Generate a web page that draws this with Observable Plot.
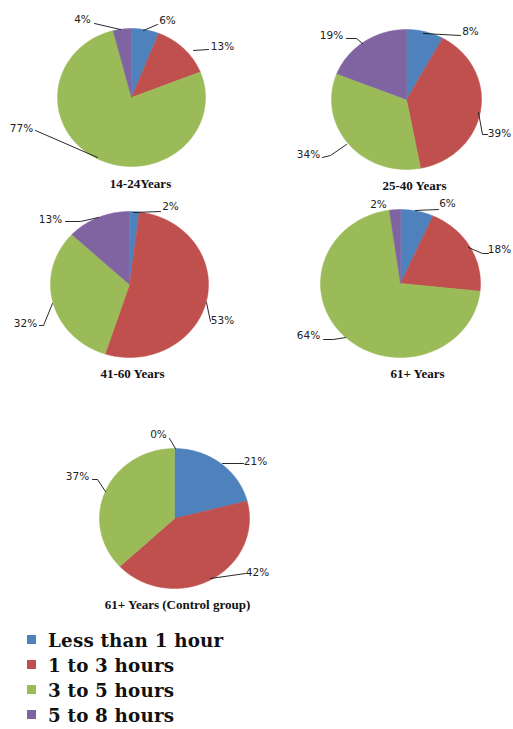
<!DOCTYPE html>
<html>
<head>
<meta charset="utf-8">
<script src="https://cdn.jsdelivr.net/npm/d3@7"></script>
<script src="https://cdn.jsdelivr.net/npm/@observablehq/plot@0.6"></script>
<style>
  body { margin: 0; background: #fff; }
  #wrap { position: relative; width: 513px; height: 729px; overflow: hidden; }
  #legend { position: absolute; left: 0; top: 628px; font-family: "DejaVu Serif", serif; font-weight: bold; font-size: 18.3px; color: #111; }
  .row { position: absolute; left: 0; height: 25px; white-space: nowrap; }
  .sw { position: absolute; left: 27px; width: 9px; height: 9px; top: 7px; }
  .lbl { position: absolute; left: 48px; top: 0; line-height: 25px; letter-spacing: 0.2px; }
</style>
</head>
<body>
<div id="wrap"><div id="chart"></div><div id="legend"></div></div>
<script>
// ---- data ----
const categories = ["Less than 1 hour", "1 to 3 hours", "3 to 5 hours", "5 to 8 hours"];
const groups = ["14-24Years", "25-40 Years", "41-60 Years", "61+ Years", "61+ Years (Control group)"];
const values14_24 = [6, 13, 77, 4];
const values25_40 = [8, 39, 34, 19];
const values41_60 = [2, 53, 32, 13];
const values61plus = [6, 18, 64, 2];
const values61control = [21, 42, 37, 0];
const seriesValues = [values14_24, values25_40, values41_60, values61plus, values61control];
const colors = ["#4F81BD", "#C0504D", "#9BBB59", "#8064A2"];

// ---- layout (positions only) ----
const layout = [
  { cx: 131, cy: 97, rx: 74, ry: 69, title: [140, 183],
    labels: [ {t: [167, 20], l: [[143, 30], [157, 24]]},
              {t: [222, 46], l: [[193, 50], [208, 49]]},
              {t: [21, 128], l: [[35, 130], [97, 157]]},
              {t: [82, 19],  l: [[94, 23], [120, 29]]} ] },
  { cx: 406, cy: 99, rx: 75, ry: 70, title: [414, 185],
    labels: [ {t: [470, 31], l: [[423, 33], [460, 35]]},
              {t: [499, 133], l: [[478, 112], [482, 134], [487, 134]]},
              {t: [308, 154], l: [[322, 157], [330, 155], [346, 144]]},
              {t: [331, 35], l: [[346, 38], [356, 38], [362, 43]]} ] },
  { cx: 129, cy: 284, rx: 79, ry: 73, title: [132, 373],
    labels: [ {t: [170, 206], l: [[133, 212], [160, 211]]},
              {t: [222, 320], l: [[206, 302], [210, 321]]},
              {t: [25, 323], l: [[39, 325], [43, 325], [52, 303]]},
              {t: [50, 219], l: [[65, 221], [80, 221], [98, 217]]} ] },
  { cx: 400, cy: 283, rx: 80, ry: 74, title: [417, 373],
    labels: [ {t: [447, 203], l: [[415, 210], [438, 209]]},
              {t: [499, 249], l: [[468, 247], [482, 253], [488, 253]]},
              {t: [308, 335], l: [[323, 339], [333, 339], [345, 337]]},
              {t: [378, 204], l: null} ] },
  { cx: 174, cy: 518, rx: 75, ry: 70, title: [177, 604],
    labels: [ {t: [255, 461], l: [[222, 463], [243, 463]]},
              {t: [257, 572], l: [[210, 578], [245, 573]]},
              {t: [77, 476], l: [[92, 479], [97, 479], [105, 491]]},
              {t: [158, 434], l: [[169, 438], [175, 448]]} ] }
];

// ---- build mark data ----
const slicePts = [];
const labelData = [];
const leaderPts = [];
const titleData = [];
seriesValues.forEach((vals, g) => {
  const L = layout[g];
  const arcs = d3.pie().sort(null).value(d => d)(vals);
  arcs.forEach((a, i) => {
    const key = g + "-" + i;
    if (a.value > 0) {
      slicePts.push({ key, cat: categories[i], x: L.cx, y: L.cy });
      const n = Math.max(2, Math.ceil((a.endAngle - a.startAngle) / (Math.PI / 180)));
      for (let k = 0; k <= n; k++) {
        const ang = a.startAngle + (a.endAngle - a.startAngle) * k / n;
        slicePts.push({ key, cat: categories[i], x: L.cx + L.rx * Math.sin(ang), y: L.cy - L.ry * Math.cos(ang) });
      }
      slicePts.push({ key, cat: categories[i], x: L.cx, y: L.cy });
    }
    const lab = L.labels[i];
    labelData.push({ x: lab.t[0], y: lab.t[1], text: vals[i] + "%" });
    if (lab.l) lab.l.forEach(p => leaderPts.push({ key, x: p[0], y: p[1] }));
  });
  titleData.push({ x: L.title[0], y: L.title[1], text: groups[g] });
});

const H = 625;
const chart = Plot.plot({
  width: 513, height: H,
  margin: 0,
  x: { domain: [0, 513], range: [0, 513], axis: null },
  y: { domain: [0, H], range: [0, H], axis: null },
  color: { domain: categories, range: colors },
  style: { background: "#fff" },
  marks: [
    Plot.line(slicePts, { x: "x", y: "y", z: "key", fill: "cat", stroke: "cat", strokeWidth: 0.5, curve: "linear" }),
    Plot.line(leaderPts, { x: "x", y: "y", z: "key", stroke: "#111", strokeWidth: 0.9 }),
    Plot.text(labelData, { x: "x", y: "y", text: "text", fontSize: 10.5, fontFamily: "DejaVu Sans", fill: "#222", textAnchor: "middle" }),
    Plot.text(titleData, { x: "x", y: "y", text: "text", fontSize: 13, fontWeight: "bold", fontFamily: "Liberation Serif", fill: "#111", textAnchor: "middle" })
  ]
});
document.getElementById("chart").appendChild(chart);

// ---- legend ----
const legend = document.getElementById("legend");
categories.forEach((c, i) => {
  const row = document.createElement("div");
  row.className = "row";
  row.style.top = (i * 25) + "px";
  const sw = document.createElement("div");
  sw.className = "sw";
  sw.style.background = colors[i];
  const lb = document.createElement("div");
  lb.className = "lbl";
  lb.textContent = c;
  row.appendChild(sw);
  row.appendChild(lb);
  legend.appendChild(row);
});
</script>
</body>
</html>
